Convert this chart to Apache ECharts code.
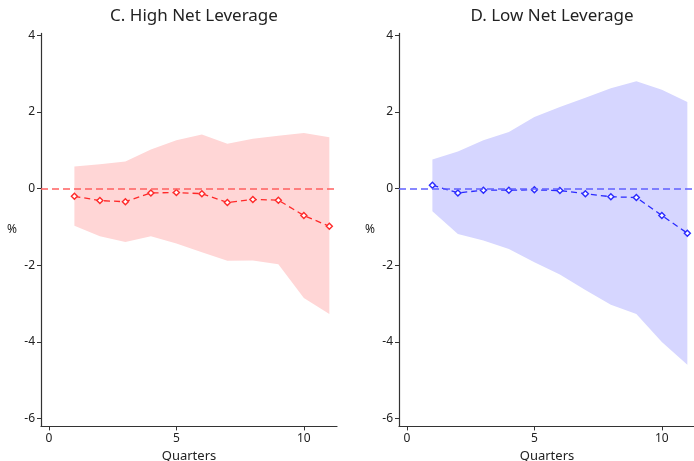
<!DOCTYPE html>
<html>
<head>
<meta charset="utf-8">
<script src="https://cdn.jsdelivr.net/npm/echarts@6/dist/echarts.min.js"></script>
<style>
  html, body { margin: 0; padding: 0; background: #fff; }
  #chart { width: 694px; height: 461px; }
</style>
</head>
<body>
<div id="chart"></div>
<script>
// Impulse responses by quarter with confidence bands, two leverage groups
const quarters = [1, 2, 3, 4, 5, 6, 7, 8, 9, 10, 11];

const highPoint = [-0.20, -0.31, -0.34, -0.11, -0.10, -0.13, -0.36, -0.28, -0.30, -0.70, -0.98];
const highUpper = [0.58, 0.64, 0.71, 1.02, 1.26, 1.41, 1.17, 1.30, 1.38, 1.45, 1.34];
const highLower = [-0.97, -1.24, -1.39, -1.24, -1.43, -1.66, -1.88, -1.87, -1.97, -2.85, -3.27];

const lowPoint = [0.09, -0.11, -0.04, -0.04, -0.03, -0.05, -0.13, -0.21, -0.23, -0.70, -1.16];
const lowUpper = [0.76, 0.97, 1.26, 1.48, 1.87, 2.13, 2.37, 2.62, 2.80, 2.58, 2.26];
const lowLower = [-0.59, -1.18, -1.35, -1.57, -1.92, -2.24, -2.64, -3.03, -3.27, -4.00, -4.59];

const yTicks = [-6, -4, -2, 0, 2, 4];
const xTicks = [0, 5, 10];

const titles = ['C. High Net Leverage', 'D. Low Net Leverage'];

const FONT = 'Noto Sans';
const TEXT = '#222';

const panels = [
  { point: highPoint, upper: highUpper, lower: highLower,
    band: '#ffd6d6', line: '#ff2a2a', zero: '#ff6060' },
  { point: lowPoint, upper: lowUpper, lower: lowLower,
    band: '#d6d6ff', line: '#2a2aff', zero: '#6060ff' }
];

const grids = [
  { left: 41, top: 33.4, width: 296, height: 393, outerBoundsMode: 'none', containLabel: false },
  { left: 399, top: 33.4, width: 296, height: 393, outerBoundsMode: 'none', containLabel: false }
];

function makeXAxis(i) {
  return {
    type: 'value', gridIndex: i, min: -0.31, max: 11.3,
    name: 'Quarters', nameLocation: 'middle', nameGap: 19,
    nameTextStyle: { fontFamily: FONT, fontSize: 13, color: TEXT },
    axisLine: { show: true, onZero: false, lineStyle: { color: '#333', width: 1.2 } },
    axisTick: { show: true, length: 4, customValues: xTicks, lineStyle: { color: '#333' } },
    axisLabel: { customValues: xTicks, margin: 6, fontFamily: FONT, fontSize: 12, color: TEXT },
    splitLine: { show: false }
  };
}

function makeYAxis(i) {
  return {
    type: 'value', gridIndex: i, min: -6.2, max: 4.05,
    name: '%', nameLocation: 'middle', nameRotate: 0, nameGap: 24,
    nameTextStyle: { fontFamily: FONT, fontSize: 12, color: TEXT },
    axisLine: { show: true, onZero: false, lineStyle: { color: '#333', width: 1.2 } },
    axisTick: { show: true, length: 4, customValues: yTicks, lineStyle: { color: '#333' } },
    axisLabel: { customValues: yTicks, margin: 6, fontFamily: FONT, fontSize: 12, color: TEXT },
    splitLine: { show: false }
  };
}

function bandSeries(i, p) {
  return {
    type: 'custom', xAxisIndex: i, yAxisIndex: i, silent: true, z: 1,
    data: [[quarters[0], 0]],
    renderItem: function (params, api) {
      const pts = [];
      for (let k = 0; k < quarters.length; k++) pts.push(api.coord([quarters[k], p.upper[k]]));
      for (let k = quarters.length - 1; k >= 0; k--) pts.push(api.coord([quarters[k], p.lower[k]]));
      return { type: 'polygon', shape: { points: pts }, style: { fill: p.band } };
    }
  };
}

function zeroSeries(i, p) {
  return {
    type: 'line', xAxisIndex: i, yAxisIndex: i, z: 2, data: [],
    markLine: {
      silent: true, symbol: 'none', label: { show: false },
      lineStyle: { color: p.zero, type: [7, 4], width: 1.5 },
      data: [{ yAxis: 0 }]
    }
  };
}

function pointSeries(i, p) {
  return {
    type: 'line', xAxisIndex: i, yAxisIndex: i, z: 3,
    data: quarters.map((q, k) => [q, p.point[k]]),
    symbol: 'diamond', symbolSize: 6, showAllSymbol: true,
    lineStyle: { color: p.line, type: [6, 4], width: 1.3 },
    itemStyle: { color: '#fff', borderColor: p.line, borderWidth: 1.4 }
  };
}

const series = [];
panels.forEach((p, i) => {
  series.push(bandSeries(i, p), zeroSeries(i, p), pointSeries(i, p));
});

const option = {
  animation: false,
  backgroundColor: '#fff',
  title: titles.map((t, i) => ({
    text: t, left: grids[i].left + grids[i].width / 2, textAlign: 'center', top: 3,
    textStyle: { fontFamily: FONT, fontSize: 17, fontWeight: 'normal', color: TEXT }
  })),
  grid: grids,
  xAxis: [makeXAxis(0), makeXAxis(1)],
  yAxis: [makeYAxis(0), makeYAxis(1)],
  series: series
};

echarts.init(document.getElementById('chart'), null, { renderer: 'canvas' }).setOption(option);
</script>
</body>
</html>
